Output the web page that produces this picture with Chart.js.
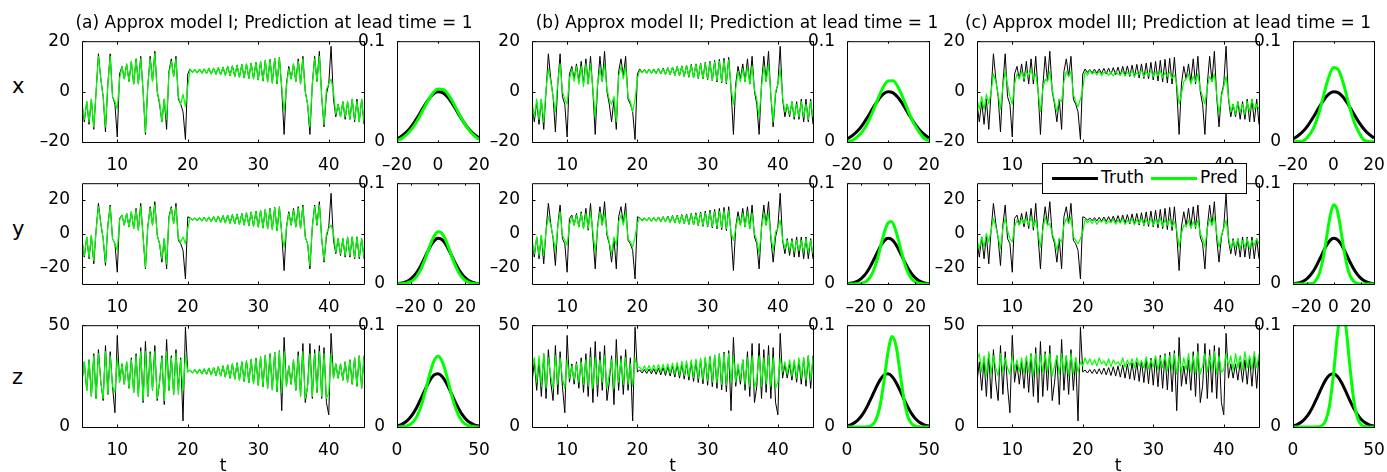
<!DOCTYPE html>
<html>
<head>
<meta charset="utf-8">
<title>Approx models – prediction at lead time 1</title>
<script src="https://cdn.jsdelivr.net/npm/chart.js@4.4.1/dist/chart.umd.min.js"></script>
<style>
  html, body { margin: 0; padding: 0; background: #fff; }
  body { position: relative; width: 1387px; height: 472px; overflow: hidden; font-family: 'DejaVu Sans', sans-serif; color: #000; }
  canvas { position: absolute; }
  .txt { position: absolute; white-space: nowrap; }
  .title { font-size: 17px; line-height: 20px; width: 600px; text-align: center; }
  .rowlab { font-size: 21px; line-height: 24px; }
  .tlab { font-size: 17px; line-height: 20px; width: 40px; text-align: center; }
  #legend { position: absolute; left: 1042px; top: 163px; width: 205px; height: 31px; box-sizing: border-box;
            border: 1px solid #000; background: #fff; z-index: 10; }
  .swatch { position: absolute; height: 3px; z-index: 11; }
  .legtxt { position: absolute; font-size: 17px; line-height: 20px; z-index: 11; }
</style>
</head>
<body>
<script>
// time grid of the samples (t from 5 to 45)
const timeGrid = [
  5, 5.33, 5.67, 6, 6.33, 6.67, 7, 7.33, 7.67, 8, 8.33, 8.67, 9, 9.33, 9.67, 10,
  10.33, 10.67, 11, 11.33, 11.67, 12, 12.33, 12.67, 13, 13.33, 13.67, 14, 14.33, 14.67, 15,
  15.33, 15.67, 16, 16.33, 16.67, 17, 17.33, 17.67, 18, 18.33, 18.67, 19, 19.33, 19.67, 20,
  20.33, 20.67, 21, 21.33, 21.67, 22, 22.33, 22.67, 23, 23.33, 23.67, 24, 24.33, 24.67, 25,
  25.33, 25.67, 26, 26.33, 26.67, 27, 27.33, 27.67, 28, 28.33, 28.67, 29, 29.33, 29.67, 30,
  30.33, 30.67, 31, 31.33, 31.67, 32, 32.33, 32.67, 33, 33.33, 33.67, 34, 34.33, 34.67, 35,
  35.33, 35.67, 36, 36.33, 36.67, 37, 37.33, 37.67, 38, 38.33, 38.67, 39, 39.33, 39.67, 40,
  40.33, 40.67, 41, 41.33, 41.67, 42, 42.33, 42.67, 43, 43.33, 43.67, 44, 44.33, 44.67, 45
];

// truth (same trajectory in all three columns)
const truthX = [
  -5, -12, -4, -13, -3, -15, 0, 15, 5, -2,
  -16, 3, 15, -2, -5, -18, 7, 10, 5, 11,
  4, 12, 3, 13, 3, 14, 0, -17, 2, 14,
  4, 16, 0, -5, -12, -3, -15, 8, 13, 6,
  14, -3, -5, -8, -19, 7, 9, 7.6, 8.8, 7.4,
  8.9, 7.3, 9, 7.2, 9.2, 7, 9.3, 6.9, 9.5, 6.7,
  9.7, 6.5, 10, 6.3, 10.2, 6, 10.5, 5.7, 10.8, 5.4,
  11, 5.2, 11.3, 5, 11.6, 4.6, 12, 4.2, 12.4, 3.8,
  12.8, 3.4, 13.2, 3, 13.6, 1, -17, 3, 10, 5,
  11, 4, 13, 3, 14, 0, -5, -17, 3, 14,
  4, 16, -2, -14, -1, 3, 18, -3, -10, -5,
  -10, -4, -11, -4, -11, -3, -12, -3, -12, -3,
  -13
];
const truthY = [
  -4, -14, -2, -15, -1, -18, 2, 18, 6, -3,
  -19, 5, 17, -3, -6, -23, 9, 11, 5, 12,
  4, 13, 3, 15, 2, 18, -2, -21, 4, 16,
  5, 19, -1, -6, -17, -3, -21, 10, 16, 6,
  18, -4, -6, -10, -27, 10, 9.5, 8, 9.3, 7.7,
  9.5, 7.5, 9.7, 7.4, 9.9, 7.2, 10.1, 7, 10.4, 6.7,
  10.7, 6.4, 11, 6.1, 11.3, 5.8, 11.7, 5.5, 12, 5.1,
  12.4, 4.7, 12.9, 4.3, 13.4, 3.9, 13.9, 3.4, 14.4, 2.9,
  15, 2.4, 15.6, 1.8, 16, 0, -22, 4, 13, 5,
  15, 4, 16, 3, 17, -2, -6, -21, 4, 17,
  5, 19, -3, -17, -2, 4, 24, -4, -12, -3,
  -13, -3, -14, -2, -14, -2, -15, -2, -15, -3,
  -15
];
const truthZ = [
  22, 32, 18, 33, 15, 36, 14, 38, 22, 13,
  40, 16, 37, 20, 7, 45, 22, 31, 21, 32,
  19, 34, 17, 36, 15, 39, 12, 42, 15, 37,
  18, 40, 13, 22, 35, 11, 43, 18, 35, 16,
  38, 18, 34, 3, 49, 27, 28, 26.5, 28.2, 26.3,
  28.4, 26.1, 28.6, 25.9, 28.9, 25.6, 29.2, 25.3, 29.6, 25,
  30, 24.5, 30.5, 24, 31, 23.5, 31.5, 23, 32, 22.4,
  32.6, 21.8, 33.2, 21.2, 33.8, 20.5, 34.5, 19.8, 35.2, 19,
  36, 18.2, 36.8, 17.3, 37.5, 8, 44, 20, 30, 21,
  33, 18, 37, 15, 41, 12, 20, 41, 14, 38,
  17, 40, 14, 39, 12, 6, 46, 24, 31, 24,
  31, 23, 32, 22, 33, 21, 34, 20, 35, 19,
  35
];

// (a) approx model I
const predAX = [
  -5, -11, -4, -12, -3, -14, 0, 14, 5, -2,
  -14, 3, 14, -2, -4, -7, 5, 10, 5, 11,
  4, 12, 3, 13, 3, 13, 0, -16, 2, 13,
  4, 15, 0, -4, -12, -3, -11, 7, 12, 6,
  13, -2, -5, -1, -6, 2, 8.8, 7.6, 8.8, 7.4,
  8.9, 7.3, 9, 7.2, 9.2, 7, 9.3, 6.9, 9.5, 6.7,
  9.7, 6.5, 10, 6.3, 10.2, 6, 10.5, 5.7, 10.8, 5.4,
  11, 5.2, 11.3, 5, 11.6, 4.6, 12, 4.2, 12.4, 3.8,
  12.8, 3.4, 13, 3.2, 13.4, 2, -8, 2, 9, 5,
  11, 4, 12, 3, 13, 0, -5, -14, 3, 13,
  4, 14, -2, -13, 1, 3, 5, 0, -9, -5,
  -10, -4, -10, -4, -11, -3, -11, -4, -12, -3,
  -12
];
const predAY = [
  -4, -13, -2, -14, -1, -16, 2, 16, 6, -3,
  -17, 5, 16, -3, -6, -10, 8, 11, 5, 12,
  4, 13, 3, 14, 2, 16, -2, -20, 4, 15,
  5, 17, -1, -6, -15, -3, -18, 9, 15, 6,
  16, -3, -5, -2, -6, 3, 9.3, 8, 9.2, 7.7,
  9.4, 7.5, 9.6, 7.4, 9.8, 7.2, 10, 7, 10.3, 6.7,
  10.6, 6.4, 10.9, 6.1, 11.2, 5.8, 11.6, 5.5, 11.9, 5.1,
  12.3, 4.7, 12.8, 4.3, 13.3, 3.9, 13.8, 3.4, 14.3, 2.9,
  14.8, 2.4, 15.3, 1.8, 15.6, 0, -8, 3, 12, 5,
  14, 4, 15, 3, 16, -2, -6, -19, 4, 16,
  5, 17, -3, -16, 0, 3, 5, 0, -11, -3,
  -12, -3, -13, -2, -13, -2, -14, -2, -14, -3,
  -14
];
const predAZ = [
  22, 32, 18, 33, 15, 35, 14, 36, 22, 14,
  37, 16, 35, 20, 17, 34, 22, 31, 21, 32,
  19, 33, 17, 35, 15, 37, 13, 37, 15, 36,
  18, 37, 14, 22, 34, 13, 37, 18, 34, 16,
  36, 16, 33, 18, 35, 27, 28, 26.5, 28.2, 26.3,
  28.4, 26.1, 28.6, 25.9, 28.9, 25.6, 29.2, 25.3, 29.6, 25,
  30, 24.5, 30.5, 24, 31, 23.5, 31.5, 23, 32, 22.4,
  32.6, 21.8, 33.2, 21.2, 33.8, 20.5, 34.5, 19.8, 35.2, 19,
  36, 18.2, 36.5, 17.5, 37, 17, 37, 20, 30, 21,
  33, 18, 35, 15, 37, 14, 20, 36, 15, 36,
  17, 37, 15, 36, 14, 17, 36, 24, 31, 24,
  31, 23, 32, 22, 33, 21, 34, 20, 35, 19,
  35
];

// (b) approx model II
const predBX = [
  -4, -10, -3, -11, -3, -12, 1, 9, 4, -2,
  -8, 4, 11, 0, -3, -5, 5, 9, 4, 10,
  3, 10, 2, 11, 3, 11, 1, -10, 3, 9,
  4, 11, 1, -3, -5, -2, -12, 6, 10, 5,
  10, -2, -4, -8, -3, 5, 8.5, 7.5, 8.6, 7.2,
  8.8, 7.4, 8.7, 7.1, 9.1, 7.2, 9, 6.8, 9.4, 6.9,
  9.5, 6.4, 9.9, 6.5, 10, 6, 10.3, 5.9, 10.4, 5.5,
  10.8, 5.5, 11, 5.1, 11.2, 5, 11.6, 4.4, 11.8, 4.3,
  12, 3.9, 12.3, 3.6, 12.5, 2, -5, 1, 8, 4,
  9, 4, 10, 3, 10, 1, -3, -10, 2, 10,
  4, 11, -1, -12, 0, 3, 9, -2, -8, -5,
  -9, -4, -10, -5, -10, -4, -10, -5, -11, -4,
  -10
];
const predBY = [
  -3, -12, -2, -13, -1, -13, 2, 10, 5, -2,
  -10, 4, 13, -1, -4, -7, 5, 10, 5, 11,
  4, 12, 3, 12, 3, 13, 1, -11, 3, 13,
  5, 12, 1, -5, -12, -2, -7, 7, 11, 5,
  13, -3, -5, -8, -2, 6, 9.5, 7.5, 9, 7.6,
  9.3, 7.2, 9.5, 7.5, 9.6, 7, 9.8, 7.1, 10, 6.6,
  10.2, 6.5, 10.5, 6.3, 10.8, 6, 11, 5.8, 11.3, 5.5,
  11.6, 5.2, 12, 4.9, 12.2, 4.6, 12.6, 4.3, 13, 3.9,
  13.2, 3.5, 13.5, 3, 13.5, 1, -4, 3, 10, 5,
  12, 4, 13, 3, 12, 0, -4, -12, 3, 12,
  5, 12, -1, -10, 1, 3, 8, -3, -9, -4,
  -10, -4, -11, -4, -10, -4, -11, -3, -11, -4,
  -12
];
const predBZ = [
  30, 34, 22, 35, 20, 36, 19, 34, 25, 19,
  35, 21, 34, 24, 19, 33, 24, 30, 23, 31,
  22, 32, 21, 33, 20, 34, 19, 34, 21, 33,
  22, 35, 19, 26, 33, 19, 34, 22, 33, 21,
  34, 21, 31, 20, 34, 29, 29.5, 27.5, 30, 27.6,
  30.2, 27.3, 30.4, 27.2, 30.6, 27, 30.8, 26.7, 31, 26.4,
  31.4, 26, 31.8, 25.6, 32.2, 25.2, 32.5, 24.8, 33, 24.3,
  33.4, 23.8, 33.9, 23.3, 34.3, 22.8, 34.8, 22.2, 35.3, 21.7,
  35.8, 21, 36.2, 20.5, 36, 22, 35, 22, 31, 23,
  33, 21, 34, 20, 35, 19, 24, 35, 20, 34,
  21, 35, 20, 34, 19, 22, 34, 27, 32, 26,
  33, 25, 33, 24, 34, 24, 34, 23, 35, 23,
  34
];

// (c) approx model III
const predCX = [
  -3, -7, -2, -7, -1, -5, 0, 7, 4, -1,
  -7, 2, 8, 3, -2, -5, 3, 7, 5, 8,
  5, 8, 6, 9, 5, 7, 0, -8, 1, 5,
  4, 8, 1, -4, -8, -3, -4, 4, 8, 6,
  8, -1, -4, -6, -3, 1, 8, 6.5, 8.5, 7,
  7.8, 6.6, 8.2, 6.3, 7.5, 8, 6.4, 7.6, 6.2, 8.1,
  7, 6.5, 8.3, 6.2, 7.7, 6.6, 8.5, 6, 7.4, 6.8,
  8.6, 5.8, 7.8, 6.4, 8.4, 5.9, 7.9, 6.2, 8.3, 5.5,
  7.5, 6, 7.8, 5.2, 6.5, 3, -5, -1, 4, 5,
  7, 3, 6, 4, 7, 1, -2, -5, 2, 6,
  4, 7, -1, -9, -2, 2, 6, -2, -8, -5,
  -9, -4, -8, -5, -9, -4, -8, -3, -7, -5,
  -7
];
const predCY = [
  -4, -9, -2, -8, 0, -5, 2, 9, 4, -2,
  -9, 3, 9, 2, -3, -5, 4, 8, 5, 9,
  6, 9, 5, 10, 4, 8, 0, -8, 2, 10,
  5, 6, 0, -4, -10, -3, -5, 5, 9, 6,
  10, -2, -4, -6, -3, 1, 8.5, 6.5, 8, 6,
  8.5, 5.5, 7.6, 6.8, 8.8, 5.8, 7.4, 6.5, 8.7, 5.6,
  8, 6.2, 9, 5.4, 7.8, 6.6, 8.9, 5.2, 8.2, 6,
  9.2, 5.1, 8.1, 5.8, 9, 4.8, 8.5, 5.6, 9.3, 4.4,
  8.2, 5, 8.6, 4, 7, 2, -8, 0, 5, 4,
  8, 3, 7, 4, 8, 0, -3, -8, 3, 9,
  5, 10, 0, -8, -1, 3, 8, -2, -9, -4,
  -8, -3, -9, -4, -8, -3, -9, -4, -7, -3,
  -6
];
const predCZ = [
  33, 36, 27, 35, 25, 37, 26, 35, 29, 25,
  36, 27, 34, 29, 26, 35, 28, 33, 27, 34,
  26, 35, 27, 36, 25, 36, 26, 35, 27, 36,
  27, 36, 25, 30, 35, 26, 36, 27, 35, 25,
  36, 26, 34, 27, 32, 30, 34, 31, 33.5, 30.5,
  33, 30, 34, 31, 32.5, 30, 33.5, 29.5, 33, 31,
  32, 30, 34, 29.5, 32.8, 30.2, 33.5, 29, 34, 30,
  32.5, 29, 34.5, 28.5, 33, 29.5, 35, 28, 34, 29,
  35.5, 27.5, 35, 28, 36, 26, 35, 27, 34, 28,
  36, 27, 35, 26, 37, 26, 30, 36, 27, 35,
  28, 37, 26, 35, 27, 28, 36, 30, 35, 28,
  36, 29, 35, 28, 37, 29, 35, 28, 37, 29,
  36
];

// probability densities
const pdfGridX = [-20, -17.5, -15, -12.5, -10, -7.5, -5, -2.5, 0, 2.5, 5, 7.5, 10, 12.5, 15, 17.5, 20];
const pdfGridY = [-30, -27.5, -25, -22.5, -20, -17.5, -15, -12.5, -10, -7.5, -5, -2.5, 0,
                  2.5, 5, 7.5, 10, 12.5, 15, 17.5, 20, 22.5, 25, 27.5, 30];
const pdfGridZ = [0, 2.5, 5, 7.5, 10, 12.5, 15, 17.5, 20, 22.5, 25, 27.5, 30, 32.5, 35, 37.5, 40, 42.5, 45, 47.5, 50];

const truthPdfX = [0.0030, 0.0062, 0.0106, 0.0168, 0.0245, 0.0331, 0.0411, 0.0472, 0.0499,
                   0.0487, 0.0439, 0.0365, 0.0279, 0.0197, 0.0129, 0.0077, 0.0040];
const truthPdfY = [0.0004, 0.0007, 0.0014, 0.0027, 0.0049, 0.0081, 0.0126, 0.0185, 0.0253, 0.0323, 0.0387, 0.0433, 0.0453,
                   0.0444, 0.0408, 0.0350, 0.0281, 0.0211, 0.0148, 0.0098, 0.0060, 0.0035, 0.0019, 0.0009, 0.0004];
const truthPdfZ = [0.0011, 0.0024, 0.0046, 0.0083, 0.0136, 0.0208, 0.0292, 0.0380, 0.0458, 0.0509, 0.0522,
                   0.0496, 0.0435, 0.0353, 0.0264, 0.0183, 0.0117, 0.0069, 0.0038, 0.0019, 0.0009];

const predAPdfX = [0.0012, 0.0038, 0.0079, 0.0137, 0.0215, 0.0310, 0.0405, 0.0484, 0.0526,
                   0.0521, 0.0471, 0.0387, 0.0290, 0.0198, 0.0123, 0.0065, 0.0025];
const predAPdfY = [0.0001, 0.0002, 0.0004, 0.0010, 0.0023, 0.0047, 0.0087, 0.0147, 0.0227, 0.0319, 0.0411, 0.0483, 0.0518,
                   0.0508, 0.0455, 0.0372, 0.0278, 0.0189, 0.0118, 0.0067, 0.0035, 0.0017, 0.0007, 0.0003, 0.0001];
const predAPdfZ = [0.0001, 0.0002, 0.0007, 0.0021, 0.0052, 0.0116, 0.0220, 0.0364, 0.0522, 0.0647, 0.0695,
                   0.0647, 0.0522, 0.0364, 0.0220, 0.0116, 0.0052, 0.0021, 0.0007, 0.0002, 0.0001];

const predBPdfX = [0.0004, 0.0014, 0.0051, 0.0103, 0.0186, 0.0298, 0.0424, 0.0537, 0.0605,
                   0.0607, 0.0541, 0.0429, 0.0302, 0.0190, 0.0106, 0.0038, 0.0012];
const predBPdfY = [0, 0, 0, 0.0002, 0.0005, 0.0015, 0.0036, 0.0080, 0.0154, 0.0263, 0.0394, 0.0520, 0.0605,
                   0.0619, 0.0558, 0.0442, 0.0308, 0.0189, 0.0102, 0.0049, 0.0020, 0.0008, 0.0002, 0.0001, 0];
const predBPdfZ = [0, 0, 0, 0, 0, 0.0003, 0.0016, 0.0065, 0.0198, 0.0445, 0.0733,
                   0.0888, 0.0790, 0.0516, 0.0247, 0.0087, 0.0023, 0.0004, 0.0001, 0, 0];

const predCPdfX = [0.0001, 0.0005, 0.0010, 0.0054, 0.0132, 0.0268, 0.0452, 0.0634, 0.0738,
                   0.0714, 0.0573, 0.0382, 0.0212, 0.0097, 0.0020, 0.0006, 0.0001];
const predCPdfY = [0, 0, 0, 0, 0.0001, 0.0004, 0.0008, 0.0046, 0.0123, 0.0267, 0.0471, 0.0674, 0.0785,
                   0.0744, 0.0574, 0.0360, 0.0183, 0.0076, 0.0026, 0.0007, 0.0001, 0, 0, 0, 0];
const predCPdfZ = [0, 0, 0, 0, 0, 0, 0.0002, 0.0011, 0.0057, 0.0205, 0.0519,
                   0.0921, 0.1147, 0.1003, 0.0615, 0.0265, 0.0080, 0.0017, 0.0003, 0, 0];

// tick labels
const timeTicks = [10, 20, 30, 40];
const ticksX = [-20, 0, 20];
const ticksY = [-20, 0, 20];
const ticksZ = [0, 50];
const pdfTicks = [0, 0.1];

const panelTitles = [
  '(a) Approx model I; Prediction at lead time = 1',
  '(b) Approx model II; Prediction at lead time = 1',
  '(c) Approx model III; Prediction at lead time = 1'
];
const rowNames = ['x', 'y', 'z'];
const legendNames = ['Truth', 'Pred'];

// ---------- layout ----------
const GREEN = '#00ff00';
const tsBoxes = [{ x: 82, w: 282 }, { x: 532, w: 281 }, { x: 977, w: 282 }];
const pdfBoxes = [{ x: 397, w: 82 }, { x: 847, w: 82 }, { x: 1293, w: 81 }];
const rowBoxes = [{ y: 41, h: 101 }, { y: 183, h: 101 }, { y: 325, h: 102 }];
const titleCenters = [274, 737, 1168];

const rows = [
  { range: [-20, 20], ticks: ticksX, truth: truthX, preds: [predAX, predBX, predCX],
    grid: pdfGridX, gridRange: [-20, 20], truthPdf: truthPdfX, predPdfs: [predAPdfX, predBPdfX, predCPdfX] },
  { range: [-30, 30], ticks: ticksY, truth: truthY, preds: [predAY, predBY, predCY],
    grid: pdfGridY, gridRange: [-30, 30], truthPdf: truthPdfY, predPdfs: [predAPdfY, predBPdfY, predCPdfY] },
  { range: [0, 50], ticks: ticksZ, truth: truthZ, preds: [predAZ, predBZ, predCZ],
    grid: pdfGridZ, gridRange: [0, 50], truthPdf: truthPdfZ, predPdfs: [predAPdfZ, predBPdfZ, predCPdfZ] },
];

Chart.defaults.font.family = "'DejaVu Sans', sans-serif";
Chart.defaults.font.size = 17;
Chart.defaults.color = '#000';

function fmtTick(v) {
  return v < 0 ? '\u2013' + Math.abs(v) : String(v);
}

// MATLAB-like box with inward ticks on all four sides
const boxFrame = {
  id: 'boxFrame',
  afterDraw(chart, args, opts) {
    const { ctx, chartArea: a } = chart;
    const xs = chart.scales.x;
    const ys = chart.scales.y;
    const len = opts.tickLen || 3;
    const l = a.left + 0.5, r = a.right + 0.5, t = a.top + 0.5, b = a.bottom + 0.5;
    ctx.save();
    ctx.strokeStyle = '#000';
    ctx.lineWidth = 1;
    ctx.beginPath();
    ctx.rect(l, t, r - l, b - t);
    xs.ticks.forEach((tk) => {
      const px = Math.round(xs.getPixelForValue(tk.value)) + 0.5;
      ctx.moveTo(px, b); ctx.lineTo(px, b - len);
      ctx.moveTo(px, t); ctx.lineTo(px, t + len);
    });
    ys.ticks.forEach((tk) => {
      const py = Math.round(ys.getPixelForValue(tk.value)) + 0.5;
      ctx.moveTo(l, py); ctx.lineTo(l + len, py);
      ctx.moveTo(r, py); ctx.lineTo(r - len, py);
    });
    ctx.stroke();
    ctx.restore();
  }
};

const PAD_L = 50, PAD_T = 14, PAD_R = 24, PAD_B = 32;

function axis(range, ticks, fitKey, fitVal) {
  return {
    type: 'linear',
    min: range[0],
    max: range[1],
    grid: { display: false },
    border: { display: false },
    ticks: { padding: 4, autoSkip: false, maxRotation: 0, callback: fmtTick },
    afterBuildTicks: (s) => { s.ticks = ticks.map((v) => ({ value: v })); },
    afterFit: (s) => { s[fitKey] = fitVal; },
  };
}

function makePanel(col, row, datasets, xRange, xTicks, yRange, yTicks, tickLen) {
  const c = document.createElement('canvas');
  c.width = col.w + PAD_L + PAD_R;
  c.height = row.h + PAD_T + PAD_B;
  c.style.left = (col.x - PAD_L) + 'px';
  c.style.top = (row.y - PAD_T) + 'px';
  document.body.appendChild(c);

  const xAxis = axis(xRange, xTicks, 'height', PAD_B);
  xAxis.ticks.padding = 5;
  const yAxis = axis(yRange, yTicks, 'width', PAD_L);

  return new Chart(c, {
    type: 'line',
    data: { datasets },
    options: {
      responsive: false,
      animation: false,
      devicePixelRatio: 1,
      events: [],
      layout: { padding: { left: 0, top: PAD_T, right: PAD_R, bottom: 0 } },
      elements: { point: { radius: 0 } },
      plugins: { legend: { display: false }, tooltip: { enabled: false }, boxFrame: { tickLen } },
      scales: { x: xAxis, y: yAxis },
    },
    plugins: [boxFrame],
  });
}

function pairs(xs, ys) {
  return xs.map((x, i) => ({ x, y: ys[i] }));
}

rows.forEach((rw, ri) => {
  const rb = rowBoxes[ri];
  for (let ci = 0; ci < 3; ci++) {
    // time series
    makePanel(tsBoxes[ci], rb, [
      { data: pairs(timeGrid, rw.preds[ci]), borderColor: GREEN, borderWidth: 1.2, tension: 0, borderJoinStyle: 'round' },
      { data: pairs(timeGrid, rw.truth), borderColor: '#000', borderWidth: 1, tension: 0, borderJoinStyle: 'round' },
    ], [5, 45], timeTicks, rw.range, rw.ticks, 3);

    // PDF
    makePanel(pdfBoxes[ci], rb, [
      { data: pairs(rw.grid, rw.predPdfs[ci]), borderColor: GREEN, borderWidth: 3, cubicInterpolationMode: 'monotone' },
      { data: pairs(rw.grid, rw.truthPdf), borderColor: '#000', borderWidth: 3, cubicInterpolationMode: 'monotone' },
    ], rw.gridRange, rw.ticks === ticksZ ? ticksZ : (ri === 0 ? ticksX : ticksY), [0, 0.1], pdfTicks, 2);
  }
});

// ---------- text ----------
function addText(cls, text, left, top) {
  const d = document.createElement('div');
  d.className = 'txt ' + cls;
  d.textContent = text;
  d.style.left = left + 'px';
  d.style.top = top + 'px';
  document.body.appendChild(d);
  return d;
}

panelTitles.forEach((t, i) => addText('title', t, titleCenters[i] - 300, 12));
const rowLabelTops = [74, 217, 365];
rowNames.forEach((n, i) => addText('rowlab', n, 12, rowLabelTops[i]));
tsBoxes.forEach((b) => addText('tlab', 't', b.x + b.w / 2 - 20, 455));

// legend (in front of panel (c), row y)
const lg = document.createElement('div');
lg.id = 'legend';
document.body.appendChild(lg);
[
  { color: '#000', line: 1052, text: 1101, name: legendNames[0] },
  { color: GREEN, line: 1151, text: 1200, name: legendNames[1] },
].forEach((it) => {
  const s = document.createElement('div');
  s.className = 'swatch';
  s.style.left = it.line + 'px';
  s.style.top = '177px';
  s.style.width = '46px';
  s.style.background = it.color;
  document.body.appendChild(s);
  const t = addText('legtxt', it.name, it.text, 167);
  t.style.zIndex = 11;
});
</script>
</body>
</html>
